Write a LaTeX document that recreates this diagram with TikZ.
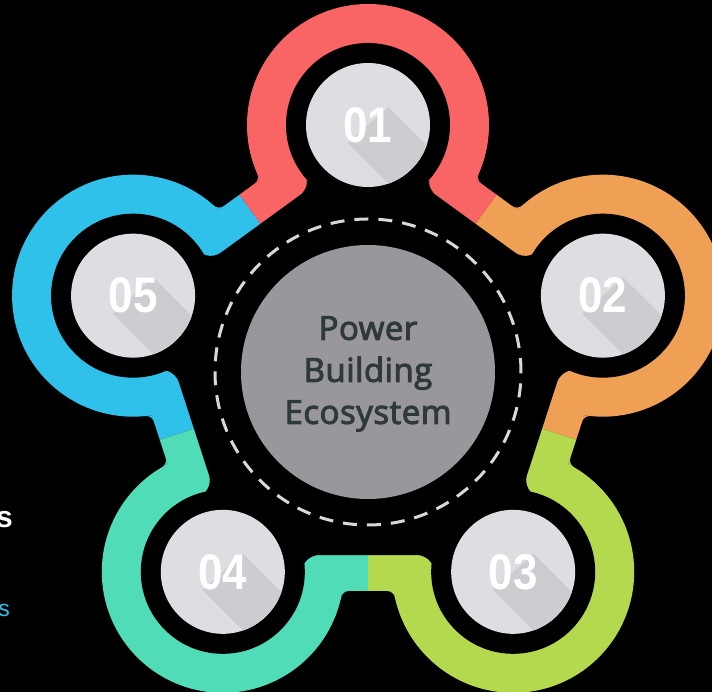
\documentclass[tikz,border=0pt]{standalone}
\usepackage{fontspec}
\setmainfont{Open Sans}
\newfontfamily\titlefont{Open Sans}[FakeBold=3, LetterSpace=1.5]
\newfontfamily\numfont{Liberation Sans}
\usetikzlibrary{positioning}

\definecolor{ringred}{HTML}{F96565}
\definecolor{ringorange}{HTML}{EFA055}
\definecolor{ringgreen}{HTML}{B4D94E}
\definecolor{ringteal}{HTML}{50DCB7}
\definecolor{ringblue}{HTML}{2FC1EA}
\definecolor{discgrey}{HTML}{DFDDE2}
\definecolor{discshade}{HTML}{CECCD0}
\definecolor{coregrey}{HTML}{99979C}
\definecolor{coretxt}{HTML}{2E393C}
\definecolor{dashgrey}{HTML}{D8D8DC}

\begin{document}
\begin{tikzpicture}[x=1pt, y=1pt,
    disc/.style={circle, fill=discgrey, minimum size=124pt, inner sep=0pt},
    num/.style={text=white, inner sep=0pt, font=\numfont\bfseries\fontsize{50}{50}\selectfont},
    core/.style={circle, fill=coregrey, minimum size=254pt, inner sep=0pt},
    coretext/.style={text=coretxt, align=center, font=\titlefont\fontsize{33}{42}\selectfont},
    dashring/.style={dashgrey, line width=3pt, dash pattern=on 14pt off 10pt}]
  \fill[black] (-368,-320) rectangle (344,372);
  \useasboundingbox (-368,-320) rectangle (344,372);

  % coloured band, one sector for each step
  \foreach \a/\c in {90/ringred, 18/ringorange, -54/ringgreen, -126/ringteal, 162/ringblue}{
    \begin{scope}
      \clip (0,0) -- (\a-36:600) -- (\a+36:600) -- cycle;
      \fill[\c] (90:270.7) -- (18:270.7) -- (-54:270.7) -- (-126:270.7) -- (162:270.7) -- cycle;
      \fill[\c] (\a:247) circle (121);
      % rounded notch corners
      \fill[\c, rotate=\a-54] (19.1,219) -- (25.7,219) -- (26.9,225.3)
        arc[start angle=-12.2, end angle=-90, radius=8] -- cycle;
      \fill[\c, rotate=\a-126, xscale=-1] (19.1,219) -- (25.7,219) -- (26.9,225.3)
        arc[start angle=-12.2, end angle=-90, radius=8] -- cycle;
    \end{scope}
  }

  % black inside of the band
  \fill[black, rounded corners=8pt] (-90:183)
    \foreach \a in {-54, 18, 90, 162, 234}{
      -- (\a-18.54:191.9) -- (\a-13.87:254.4) -- (\a+13.87:254.4) -- (\a+18.54:191.9)
    } -- cycle;
  \foreach \a in {90, 18, -54, -126, 162}
    \fill[black] (\a:247) circle (82);

  % steps
  \foreach \a/\t in {90/01, 18/02, -54/03, -126/04, 162/05}{
    \node[disc] (d\t) at (\a:247) {};
    \begin{scope}
      \clip (d\t.center) circle (62);
      \fill[discshade] ([shift={(20.5,18)}]d\t.center) -- ++(120,-120) -- ++(0,-36)
        -- ++(-41,0) -- ([shift={(-20.5,-18)}]d\t.center) -- cycle;
    \end{scope}
    \node[num] (l\t) at (d\t) {\scalebox{0.88}[1]{\t}};
  }

  % centre
  \node[core] (core) at (0,0) {};
  \draw[dashring] (core.center) circle (153);
  \node[coretext] (title) at (0,-2) {Power\\Building\\Ecosystem};

  % cut-off text on the left
  \node[anchor=base east, inner sep=0pt, text=white, font=\numfont\bfseries\fontsize{30}{30}\selectfont] (s1) at (-355,-156) {s};
  \node[anchor=base east, inner sep=0pt, text=ringblue, font=\numfont\fontsize{23}{23}\selectfont] (s2) at (-358,-245) {s};
\end{tikzpicture}
\end{document}
